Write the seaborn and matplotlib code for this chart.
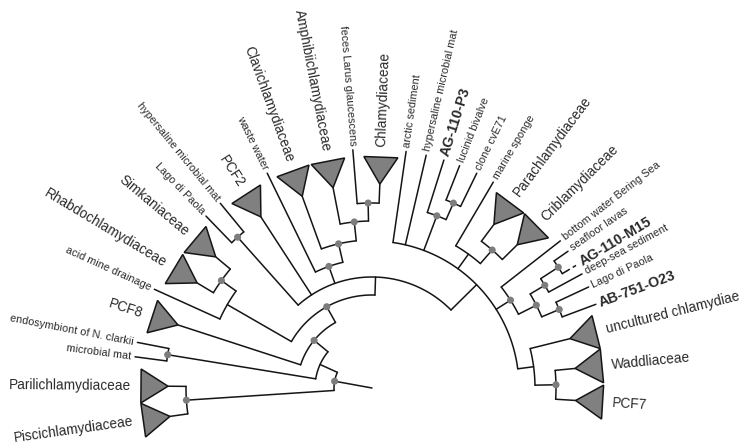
import numpy as np
import pandas as pd
import matplotlib.pyplot as plt
import seaborn as sns

# leaves, counter-clockwise from the lower right; angles in degrees
leaf_names = ['PCF7', 'Waddliaceae', 'uncultured chlamydiae', 'AB-751-O23', 'Lago di Paola',
              'deep-sea sediment', 'AG-110-M15', 'seafloor lavas', 'bottom water Bering Sea',
              'Criblamydiaceae', 'Parachlamydiaceae', 'marine sponge', 'clone cvE71',
              'lucinid bivalve', 'AG-110-P3', 'hypersaline microbial mat', 'arctic sediment',
              'Chlamydiaceae', 'feces Larus glaucescens', 'Amphibiichlamydiaceae',
              'Clavichlamydiaceae', 'waste water', 'PCF2', 'hypersaline microbial mat',
              'Lago di Paola', 'Simkaniaceae', 'Rhabdochlamydiaceae', 'acid mine drainage',
              'PCF8', 'endosymbiont of N. clarkii', 'microbial mat', 'Parilichlamydiaceae',
              'Piscichlamydiaceae']
leaf_angles = [-3.5, 5.5, 14, 20.5, 25, 28.5, 31, 34.9, 38, 44.6, 53.3, 59.5, 64, 68.5, 72.5,
               76.9, 81.8, 87.8, 94.6, 101, 110, 116, 123, 129.4, 134, 140, 149, 155.6, 162,
               169, 172.5, 179.5, 188]
leaf_kinds = ['clade', 'clade', 'clade', 'bold', 'seq', 'seq', 'dashed', 'seq', 'seq', 'clade',
              'clade', 'seq', 'seq', 'seq', 'bold', 'seq', 'seq', 'clade', 'seq', 'clade',
              'clade', 'seq', 'clade', 'seq', 'seq', 'clade', 'clade', 'seq', 'clade', 'seq',
              'seq', 'clade', 'clade']

# internal nodes (children: leaf index or node name), listed from tips to root
node_names = ['L', 'K', 'V', 'Z', 'Y', 'X', 'W', 'PC', 'M', 'Q', 'P', 'Big', 'F', 'G', 'H',
              'I', 'HL', 'A', 'S', 'T', 'B', 'N2', 'EM', 'N1', 'PP', 'root']
node_children = [[0, 1], [2, 'L'], [3, 4], [6, 7], ['Z', 5], ['Y', 'V'], [8, 'X'], [9, 10],
                 [11, 'PC'], [12, 13], [14, 'Q'], [16, 15, 'P', 'M', 'W', 'K'], [17, 18],
                 ['F', 19], ['G', 20], ['H', 21], [23, 24], ['Big', 'I', 22, 'HL'], [25, 26],
                 ['S', 27], ['A', 'T'], ['B', 28], [29, 30], ['N2', 'EM'], [31, 32],
                 ['N1', 'PP']]
node_radii = [184, 163, 203, 222, 201, 184, 164, 183, 165, 202, 184, 147, 185, 167, 148, 129,
              202, 111, 185, 167, 93, 75, 207, 57, 186, 38]
node_support = [1, 0, 1, 1, 1, 1, 1, 1, 0, 1, 1, 0, 1, 1, 1, 1, 1, 0, 1, 0, 1, 1, 1, 0, 1, 1]

cx, cy = 372, 388          # centre of the circular layout (pixels)
apex_r, base_r, half_base = 204, 231, 17
tip_r = 239


def xy(angle, r):
    a = np.radians(angle)
    return cx + r * np.cos(a), cy - r * np.sin(a)


sns.set_style('white')
plt.rcParams['font.family'] = ['Liberation Sans', 'DejaVu Sans']

angle_of = {i: a for i, a in enumerate(leaf_angles)}
radius_of = {}
for name, kids, r in zip(node_names, node_children, node_radii):
    ang = [angle_of[k] for k in kids]
    angle_of[name] = (min(ang) + max(ang)) / 2
    radius_of[name] = r

fig, ax = plt.subplots(figsize=(7.48, 4.48), dpi=100)
fig.subplots_adjust(0, 0, 1, 1)

line_kw = dict(color='#151515', lw=1.1, zorder=2)

# arcs and radial branches
for name, kids, r in zip(node_names, node_children, node_radii):
    ang = [angle_of[k] for k in kids]
    t = np.linspace(min(ang), max(ang), 80)
    ax.plot(*xy(t, r), **line_kw)
    for k in kids:
        if isinstance(k, str):
            r_end = radius_of[k]
        elif leaf_kinds[k] == 'clade':
            r_end = apex_r
        elif leaf_kinds[k] == 'dashed':
            r_end = 227
        else:
            r_end = tip_r
        ax.plot(*xy(angle_of[k], np.array([r, r_end])), **line_kw)
        if not isinstance(k, str) and leaf_kinds[k] == 'dashed':
            ax.plot(*xy(angle_of[k], np.array([227, tip_r])), color='#151515', lw=1.1,
                    ls=(0, (2.5, 2.2)), zorder=2)

# root stem
ax.plot(*xy(angle_of['root'], np.array([0, radius_of['root']])), **line_kw)

# collapsed clades as triangles
for a, kind in zip(leaf_angles, leaf_kinds):
    if kind != 'clade':
        continue
    px, py = xy(a, apex_r)
    bx, by = xy(a, base_r)
    th = np.radians(a)
    dx, dy = half_base * np.sin(th), half_base * np.cos(th)
    ax.fill([px, bx + dx, bx - dx], [py, by + dy, by - dy], facecolor='#808080',
            edgecolor='#151515', lw=1.1, joinstyle='miter', zorder=3)

# support dots
dots = pd.DataFrame({
    'x': [xy(angle_of[n], radius_of[n])[0] for n, s in zip(node_names, node_support) if s],
    'y': [xy(angle_of[n], radius_of[n])[1] for n, s in zip(node_names, node_support) if s],
})
sns.scatterplot(data=dots, x='x', y='y', ax=ax, color='#7d7d7d', s=26, edgecolor='none',
                zorder=4, legend=False)

# labels
for label, a, kind in zip(leaf_names, leaf_angles, leaf_kinds):
    r_lab = 241 if kind == 'clade' else 243
    x, y = xy(a, r_lab)
    if a > 90:
        rot, ha = a - 180, 'right'
    else:
        rot, ha = a, 'left'
    if kind == 'clade':
        fs, fw = 9.8, 'normal'
    elif kind in ('bold', 'dashed'):
        fs, fw = 10.3, 'bold'
    else:
        fs, fw = 7.8, 'normal'
    ax.text(x, y, label, rotation=rot, rotation_mode='anchor', ha=ha, va='center',
            fontsize=fs, fontweight=fw, color='#2a2a2a')

ax.set_xlim(0, 748)
ax.set_ylim(448, 0)
ax.set_aspect('equal')
ax.axis('off')

plt.savefig('out.png', dpi=100)
